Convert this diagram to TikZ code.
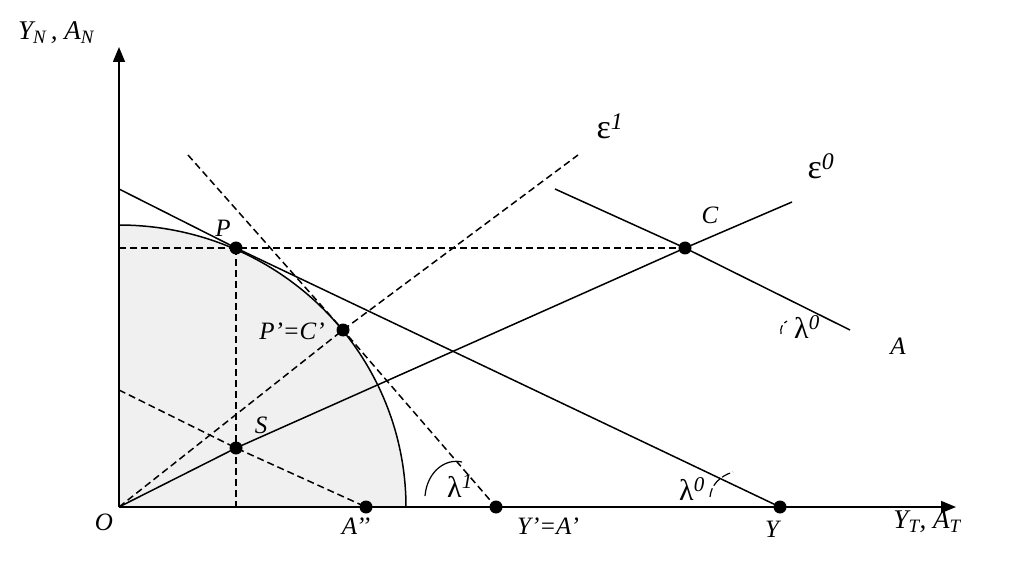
\documentclass[tikz,border=0pt]{standalone}
\usepackage{fontspec}
\setmainfont{Liberation Serif}
\usetikzlibrary{arrows.meta}
\begin{document}
\begin{tikzpicture}[x=1pt,y=-1pt,
 line width=1.5pt,
 dot/.style={circle,fill=black,minimum size=13pt,inner sep=0pt},
 lab/.style={font=\fontsize{25}{25}\selectfont\itshape, inner sep=0pt},
 biglab/.style={font=\fontsize{27}{27}\selectfont\itshape, inner sep=0pt},
 grk/.style={font=\fontsize{30}{30}\selectfont\itshape, inner sep=0pt},
 grkb/.style={font=\fontsize{34}{34}\selectfont\itshape, inner sep=0pt},
 dsh/.style={dash pattern=on 7pt off 4pt},
 ax/.style={-{Triangle[length=15pt,width=12pt]}}]
\useasboundingbox (0,0) rectangle (1009,585);
% key coordinates
\coordinate (O) at (119,507);
\coordinate (ytop) at (119,47);
\coordinate (xend) at (956,507);
\coordinate (Ftop) at (119,225);
\coordinate (L0s) at (119,189);
\coordinate (As) at (555,189);
\coordinate (Ae) at (850,330);
\coordinate (E0e) at (792,202);
\coordinate (E1e) at (578,155);
\coordinate (Ts) at (188,155);
\coordinate (Hs) at (119,248);
\coordinate (Vb) at (236,507);
\coordinate (Ds) at (119,390);
% frontier
\fill[black!6] (O) -- plot[domain=90:0,samples=80] ({119+287*cos(\x)},{507-282*sin(\x)}) -- cycle;
\draw plot[domain=90:0,samples=80] ({119+287*cos(\x)},{507-282*sin(\x)});
% points
\node[dot] (P) at (236,248) {};
\node[dot] (Pp) at (343,330) {};
\node[dot] (S) at (236,448) {};
\node[dot] (App) at (366,507) {};
\node[dot] (Yp) at (496,507) {};
\node[dot] (Y) at (780,507) {};
\node[dot] (C) at (685,248) {};
% axes
\draw[ax] (O) -- (ytop);
\draw[ax] (O) -- (xend);
% solid lines
\draw (L0s) -- (P.center) -- (Y.center);
\draw (As) -- (C.center) -- (Ae);
\draw (O) -- (S.center) -- (C.center) -- (E0e);
% dashed lines
\draw[dsh] (O) -- (Pp.center) -- (E1e);
\draw[dsh] (Ts) -- (Pp.center) -- (Yp.center);
\draw[dsh] (Hs) -- (P.center) -- (C.center);
\draw[dsh] (P.center) -- (Vb);
\draw[dsh] (Ds) -- (S.center) -- (App.center);
% angle marks
\draw[line width=1.2pt] (425,496) .. controls (427,472) and (445,458) .. (462,462);
\draw[line width=1.2pt,dash pattern=on 9pt off 3pt] (710,497) .. controls (711,485) and (720,476) .. (733,472);
\draw[line width=1.2pt,dash pattern=on 9pt off 3pt] (781,334) .. controls (780,328) and (782,324) .. (787,321);
% labels
\node[biglab] (lYN) at (56,33) {Y\textsubscript{\textit{N}}\,, A\textsubscript{\textit{N}}};
\node[biglab] (lYT) at (927,522) {Y\textsubscript{\textit{T}}, A\textsubscript{\textit{T}}};
\node[lab] (lO) at (104,522) {O};
\node[lab] (lApp) at (356,526) {A’’};
\node[lab] (lYp) at (548,526) {Y’=A’};
\node[lab] (lY) at (772,529) {Y};
\node[lab] (lP) at (223,228) {P};
\node[lab] (lPp) at (292,331) {P’=C’};
\node[lab] (lS) at (261,425) {S};
\node[lab] (lC) at (710,215) {C};
\node[lab] (lA) at (898,346) {A};
\node[grkb] (le1) at (610,126) {\textup{ε}\textsuperscript{\textit{1}}};
\node[grkb] (le0) at (821,166) {\textup{ε}\textsuperscript{\textit{0}}};
\node[grk] (ll1) at (460,486) {\textup{λ}\textsuperscript{\textit{1}}};
\node[grk] (ll0a) at (692,489) {\textup{λ}\textsuperscript{\textit{0}}};
\node[grk] (ll0b) at (807,327) {\textup{λ}\textsuperscript{\textit{0}}};
\end{tikzpicture}
\end{document}
